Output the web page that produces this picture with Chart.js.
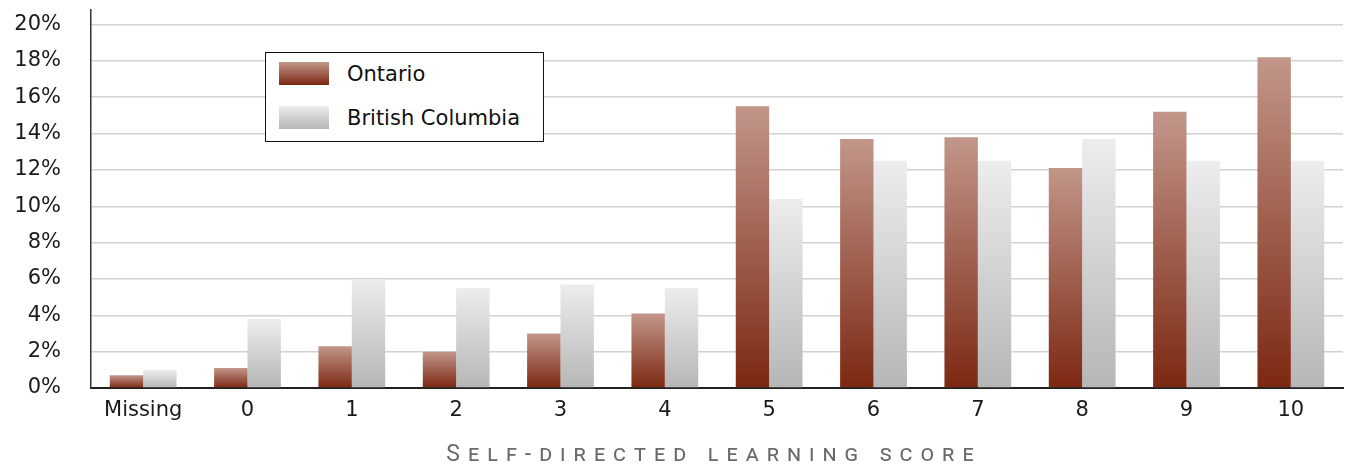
<!DOCTYPE html>
<html>
<head>
<meta charset="utf-8">
<script src="https://cdn.jsdelivr.net/npm/chart.js@4"></script>
<style>
  body { margin: 0; background: #fff; }
  #wrap { position: relative; width: 1365px; height: 467px; }
  #legend {
    position: absolute; left: 265px; top: 52px; width: 277px; height: 88px;
    border: 1.5px solid #111; background: #fff;
    font-family: "DejaVu Sans", sans-serif; font-size: 21px; color: #111;
  }
  .item { position: absolute; left: 13px; height: 23px; display: flex; align-items: center; }
  .sw { width: 50px; height: 23px; margin-right: 18px; }
  #xtitle {
    position: absolute; left: 0; width: 1428px; top: 440px; text-align: center;
    font-family: "Liberation Sans Narrow", "Roboto", sans-serif; font-size: 23px;
    font-variant: small-caps; letter-spacing: 8px; color: #6a6a6a;
  }
</style>
</head>
<body>
<div id="wrap">
  <canvas id="chart"></canvas>
  <div id="legend"></div>
  <div id="xtitle">Self-directed learning score</div>
</div>
<script>
// Données (en %)
const categories = ['Missing', '0', '1', '2', '3', '4', '5', '6', '7', '8', '9', '10'];
const ontario = [0.7, 1.1, 2.3, 2.0, 3.0, 4.1, 15.5, 13.7, 13.8, 12.1, 15.2, 18.2];
const britishColumbia = [1.0, 3.8, 6.0, 5.5, 5.7, 5.5, 10.4, 12.5, 12.5, 13.7, 12.5, 12.5];
const yTicks = [0, 2, 4, 6, 8, 10, 12, 14, 16, 18, 20];
const seriesLabels = ['Ontario', 'British Columbia'];

const ontColors = ['#c2968a', '#7c2812'];
const bcColors = ['#ededed', '#b6b6b6'];

// Dégradé vertical par barre
function barGradient(colors) {
    return function(ctx) {
        const chart = ctx.chart;
        if (!chart.chartArea || ctx.parsed === undefined) return colors[1];
        const y = chart.scales.y;
        const top = y.getPixelForValue(ctx.parsed.y);
        const bottom = y.getPixelForValue(0);
        if (!isFinite(top) || bottom - top < 1) return colors[1];
        const g = chart.ctx.createLinearGradient(0, top, 0, bottom);
        g.addColorStop(0, colors[0]);
        g.addColorStop(1, colors[1]);
        return g;
    };
}

const tickFont = { family: '"DejaVu Sans", sans-serif', size: 21 };

new Chart(document.getElementById('chart'), {
    type: 'bar',
    data: {
        labels: categories,
        datasets: [
            { label: seriesLabels[0], data: ontario, backgroundColor: barGradient(ontColors) },
            { label: seriesLabels[1], data: britishColumbia, backgroundColor: barGradient(bcColors) }
        ]
    },
    options: {
        responsive: true,
        maintainAspectRatio: false,
        animation: false,
        layout: { padding: { top: 10, right: 22, left: 0, bottom: 0 } },
        datasets: { bar: { categoryPercentage: 0.64, barPercentage: 1 } },
        plugins: { legend: { display: false }, tooltip: { enabled: false } },
        scales: {
            x: {
                grid: { display: false, drawTicks: false },
                border: { color: '#222', width: 2 },
                ticks: { font: tickFont, color: '#1a1a1a', padding: 10 },
                afterFit: s => { s.height = 79; }
            },
            y: {
                min: 0,
                max: 20.8,
                afterBuildTicks: s => { s.ticks = yTicks.map(v => ({ value: v })); },
                grid: { color: '#d2d2d2', lineWidth: 1.5, drawTicks: false },
                border: { color: '#333', width: 1.5 },
                ticks: {
                    font: tickFont, color: '#1a1a1a', padding: 30,
                    callback: v => v + '%'
                },
                afterFit: s => { s.width = 91; s.paddingTop = 0; s.paddingBottom = 0; }
            }
        }
    }
});

// Légende HTML placée dans la zone du graphique
const legend = document.getElementById('legend');
[[ontColors, 9], [bcColors, 53]].forEach(([c, top], i) => {
    const item = document.createElement('div');
    item.className = 'item';
    item.style.top = top + 'px';
    item.innerHTML = '<div class="sw" style="background:linear-gradient(' + c[0] + ',' + c[1] + ')"></div>' + seriesLabels[i];
    legend.appendChild(item);
});
</script>
</body>
</html>
